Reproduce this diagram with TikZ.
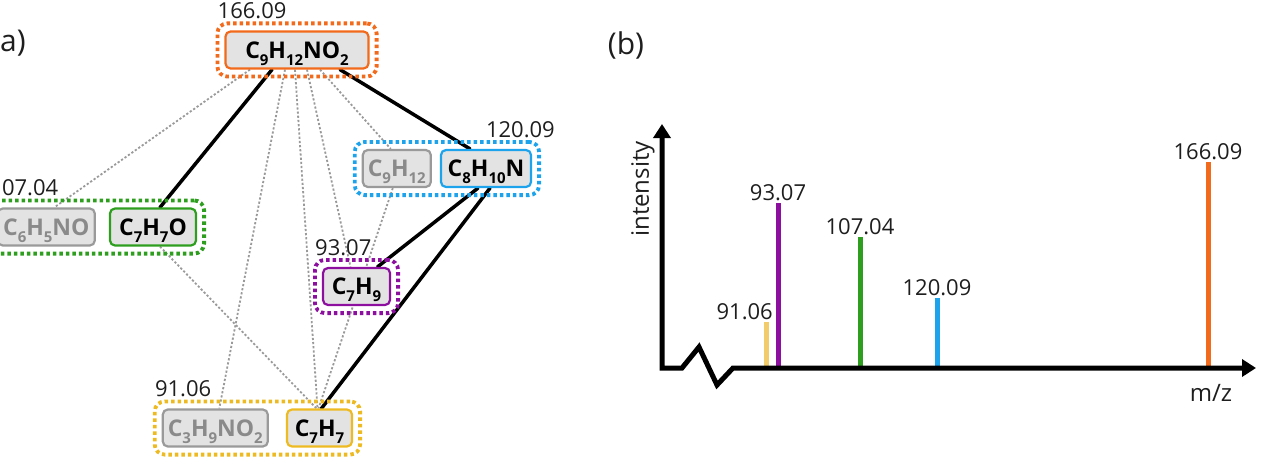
\documentclass[tikz,border=0pt]{standalone}
\usepackage{fontspec}
\setmainfont{Open Sans}
\usetikzlibrary{calc}
\usetikzlibrary{positioning}
\usetikzlibrary{fit}
\usetikzlibrary{arrows.meta}
\definecolor{fragOrange}{HTML}{F26A1B}
\definecolor{fragBlue}{HTML}{1CA3EC}
\definecolor{fragGreen}{HTML}{2E9E1F}
\definecolor{fragPurple}{HTML}{8C0FA0}
\definecolor{fragYellow}{HTML}{EDBA22}
\definecolor{barYellow}{HTML}{F2CC6A}
\definecolor{boxGray}{HTML}{E3E3E3}
\definecolor{edgeGray}{HTML}{9A9A9A}
\definecolor{grayText}{HTML}{8A8A8A}
\definecolor{labelText}{HTML}{1E1E1E}
\pgfdeclarelayer{edge_bg}
\pgfsetlayers{edge_bg,main}
\newcommand{\chemsub}[1]{\raisebox{-7pt}{\fontsize{15}{15}\selectfont #1}}

\begin{document}
\begin{tikzpicture}[x=1pt, y=-1pt,
    frag/.style={draw=#1, fill=boxGray, rounded corners=5pt, line width=2.2pt, minimum height=37pt, inner xsep=4pt, inner ysep=3pt, text height=16.5pt, text depth=0pt, text=black, font=\fontsize{23}{23}\selectfont\bfseries},
    fragGray/.style={frag=edgeGray, text=grayText},
    grp/.style={draw=#1, line width=3.8pt, dash pattern=on 3.5pt off 3pt, rounded corners=10pt, inner sep=7pt},
    mz/.style={inner sep=2pt, text=labelText, font=\fontsize{22}{22}\selectfont},
    heavy/.style={line width=3.5pt, line cap=round},
    light/.style={draw=edgeGray, line width=1.8pt, dash pattern=on 2.2pt off 2pt},
    axisline/.style={line width=5pt, line join=miter},
    axislabel/.style={inner sep=0pt, text=labelText, font=\fontsize{24}{24}\selectfont},
    panellabel/.style={inner sep=0pt, text=labelText, font=\fontsize{30}{30}\selectfont},
    peak/.style={line width=5pt}]
    \useasboundingbox (0,0) rectangle (1261,460);

    % panel (a): fragments
    \node (c9h12no2) [frag=fragOrange, minimum width=143pt] at (297,50) {C\chemsub{9}H\chemsub{12}NO\chemsub{2}};
    \node (c8h10n) [frag=fragBlue, minimum width=90pt] at (486,168.5) {C\chemsub{8}H\chemsub{10}N};
    \node (c9h12) [fragGray, minimum width=68pt, left=8pt of c8h10n] {C\chemsub{9}H\chemsub{12}};
    \node (c7h7o) [frag=fragGreen, minimum width=86pt] at (153,227) {C\chemsub{7}H\chemsub{7}O};
    \node (c6h5no) [fragGray, minimum width=97pt, left=13pt of c7h7o] {C\chemsub{6}H\chemsub{5}NO};
    \node (c7h9) [frag=fragPurple, minimum width=67pt] at (356.5,286.5) {C\chemsub{7}H\chemsub{9}};
    \node (c7h7) [frag=fragYellow, minimum width=65pt] at (319.5,428) {C\chemsub{7}H\chemsub{7}};
    \node (c3h9no2) [fragGray, minimum width=105pt, left=17pt of c7h7] {C\chemsub{3}H\chemsub{9}NO\chemsub{2}};

    \node (grpTop) [grp=fragOrange, fit=(c9h12no2)] {};
    \node (grpBlue) [grp=fragBlue, fit=(c9h12)(c8h10n)] {};
    \node (grpGreen) [grp=fragGreen, fit=(c6h5no)(c7h7o)] {};
    \node (grpPurple) [grp=fragPurple, fit=(c7h9)] {};
    \node (grpYellow) [grp=fragYellow, fit=(c3h9no2)(c7h7)] {};

    \node (lblTop) [mz, anchor=south west] at (grpTop.north west) {166.09};
    \node (lblBlue) [mz, anchor=south east] at ([xshift=16pt]grpBlue.north east) {120.09};
    \node (lblGreen) [mz, anchor=south west] at ([xshift=12pt]grpGreen.north west) {07.04};
    \node (lblPurple) [mz, anchor=south west] at (grpPurple.north west) {93.07};
    \node (lblYellow) [mz, anchor=south west] at (grpYellow.north west) {91.06};

    \node (pa) [panellabel, anchor=west] at (0,43) {a)};
    \node (pb) [panellabel] at (626,45) {(b)};

    \begin{pgfonlayer}{edge_bg}
        \draw [light] ([xshift=-47pt]c9h12no2.south) -- ([xshift=8pt]c6h5no.north);
        \draw [light] ([xshift=-12pt]c9h12no2.south) -- ([xshift=4pt]c3h9no2.north);
        \draw [light] ([xshift=-2pt]c9h12no2.south) -- ([xshift=-2pt]c7h7.north);
        \draw [light] ([xshift=10pt]c9h12no2.south) -- ([xshift=-6pt]c7h9.north);
        \draw [light] ([xshift=23pt]c9h12no2.south) -- ([xshift=-6pt]c9h12.north);
        \draw [light] ([xshift=-4pt]c9h12.south) -- ([xshift=-1pt]c7h7.north);
        \draw [light] ([xshift=7pt]c7h7o.south) -- ([xshift=-3pt]c7h7.north);

        \draw [heavy] ([xshift=-25pt]c9h12no2.south) -- ([xshift=7pt]c7h7o.north);
        \draw [heavy] ([xshift=43pt]c9h12no2.south) -- ([xshift=-16pt]c8h10n.north);
        \draw [heavy] ([xshift=-8pt]c8h10n.south) -- ([xshift=21pt]c7h9.north);
        \draw [heavy] ([xshift=4pt]c8h10n.south) -- ([xshift=2pt]c7h7.north);
    \end{pgfonlayer}

    % panel (b): spectrum
    \foreach \xb/\yb/\col/\mzval/\anc/\dx in {766/322/barYellow/91.06/south east/9pt, 778/203/fragPurple/93.07/south/0pt, 860/237/fragGreen/107.04/south/0pt, 937/298/fragBlue/120.09/south/0pt, 1208/162/fragOrange/166.09/south/0pt} {
        \draw [peak, draw=\col] (\xb,366) -- (\xb,\yb);
        \node (peak\xb) [mz, anchor=\anc, xshift=\dx] at (\xb,\yb) {\mzval};
    }

    \coordinate (orig) at (662,368);
    \draw [axisline, {Triangle[length=14pt,width=17pt]}-{Triangle[length=14pt,width=17pt]}] (662,124) -- (orig) -- (682,368) -- (699,347) -- (717,385) -- (733,368) -- (1256,368);

    \node (ylab) [axislabel, rotate=90] at (643,189) {intensity};
    \node (xlab) [axislabel] at (1211,393) {m/z};
\end{tikzpicture}
\end{document}
